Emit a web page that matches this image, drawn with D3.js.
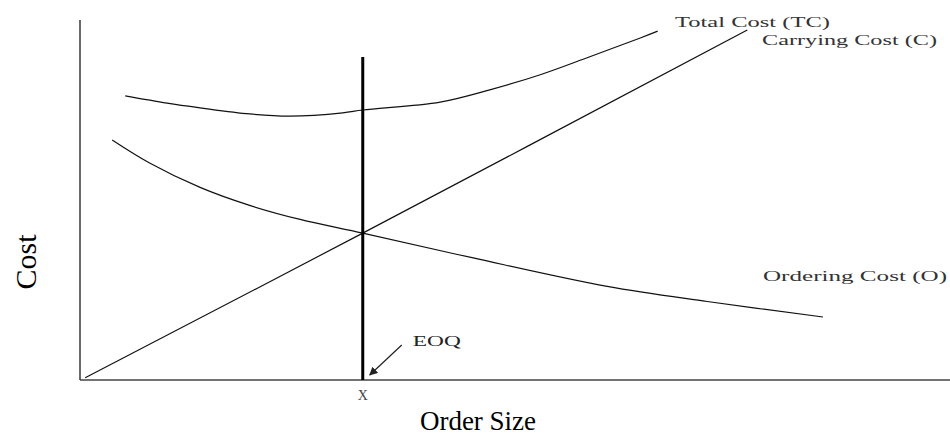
<!DOCTYPE html>
<html><head><meta charset="utf-8">
<script src="https://cdn.jsdelivr.net/npm/d3@7"></script>
<style>body{margin:0;background:#fff}svg{display:block}</style>
</head><body>
<script>
// Order size (x) and cost (y) in arbitrary units 0-100
const carryingX = [0.6, 32.5, 76.7];
const carryingY = [0.6, 40.8, 97.2];
const orderingX = [3.7, 8.0, 13.8, 19.5, 25.3, 32.5, 45.2, 60.6, 72.1, 85.4];
const orderingY = [66.7, 60.3, 53.5, 48.5, 44.6, 40.8, 33.9, 26.0, 21.8, 17.5];
const totalX = [5.2, 10.0, 13.8, 19.5, 24.1, 30.2, 32.5, 41.4, 47.1, 52.9, 58.6, 64.4, 66.4];
const totalY = [78.9, 76.9, 75.6, 73.9, 73.3, 74.2, 75.0, 77.2, 80.6, 84.8, 89.8, 95.0, 96.9];
const eoqX = 32.5;
const eoqTop = 89.7;
const labels = ["Total Cost (TC)", "Carrying Cost (C)", "Ordering Cost (O)"];
const axisTitles = ["Order Size", "Cost"];

const W = 950, H = 437;
const svg = d3.select("body").append("svg").attr("width", W).attr("height", H);
const x = d3.scaleLinear().domain([0, 100]).range([80, 950]);
const y = d3.scaleLinear().domain([0, 100]).range([380, 20]);

// axes
svg.append("line").attr("x1", x(0)).attr("x2", x(0)).attr("y1", y(100)).attr("y2", y(0))
  .attr("stroke", "#444").attr("stroke-width", 1.6);
svg.append("line").attr("x1", x(0)).attr("x2", x(100)).attr("y1", y(0)).attr("y2", y(0))
  .attr("stroke", "#444").attr("stroke-width", 1.6);

const line = d3.line().x(d => x(d[0])).y(d => y(d[1])).curve(d3.curveCatmullRom.alpha(0.5));
const series = [
  d3.zip(carryingX, carryingY),
  d3.zip(orderingX, orderingY),
  d3.zip(totalX, totalY)
];
series.forEach(s => {
  svg.append("path").attr("d", line(s)).attr("fill", "none")
    .attr("stroke", "#111").attr("stroke-width", 1.2);
});

// EOQ vertical line
svg.append("line").attr("x1", x(eoqX)).attr("x2", x(eoqX)).attr("y1", y(eoqTop)).attr("y2", y(0))
  .attr("stroke", "#000").attr("stroke-width", 3);

// arrow
svg.append("defs").append("marker").attr("id", "ah").attr("viewBox", "0 0 10 10")
  .attr("refX", 9).attr("refY", 5).attr("markerWidth", 7).attr("markerHeight", 7)
  .attr("orient", "auto").append("path").attr("d", "M0,0L10,5L0,10z").attr("fill", "#222");
svg.append("line").attr("x1", x(eoqX) + 39).attr("y1", y(0) - 35)
  .attr("x2", x(eoqX) + 7).attr("y2", y(0) - 5)
  .attr("stroke", "#222").attr("stroke-width", 1.2).attr("marker-end", "url(#ah)");

const small = "'Liberation Serif', 'DejaVu Serif', serif";
svg.append("text").attr("x", x(eoqX) + 50).attr("y", y(0) - 34)
  .attr("font-family", small).attr("font-size", 15).attr("fill", "#222")
  .attr("textLength", 48).attr("lengthAdjust", "spacingAndGlyphs").text("EOQ");
svg.append("text").attr("x", x(eoqX)).attr("y", 400).attr("text-anchor", "middle")
  .attr("font-family", small).attr("font-size", 14).attr("fill", "#444").text("X");

// series labels
const lab = [
  {t: labels[0], x: 675, y: 27, w: 155},
  {t: labels[1], x: 762, y: 45, w: 175},
  {t: labels[2], x: 763, y: 281, w: 184}
];
lab.forEach(l => {
  svg.append("text").attr("x", l.x).attr("y", l.y)
    .attr("font-family", small).attr("font-size", 14).attr("fill", "#333")
    .attr("textLength", l.w).attr("lengthAdjust", "spacingAndGlyphs").text(l.t);
});

// axis titles
svg.append("text").attr("x", 478).attr("y", 430).attr("text-anchor", "middle")
  .attr("font-family", small).attr("font-size", 27).attr("fill", "#000").text(axisTitles[0]);
svg.append("text").attr("transform", "translate(36,262) rotate(-90)").attr("text-anchor", "middle")
  .attr("font-family", small).attr("font-size", 30).attr("fill", "#000").text(axisTitles[1]);
</script>
</body></html>
